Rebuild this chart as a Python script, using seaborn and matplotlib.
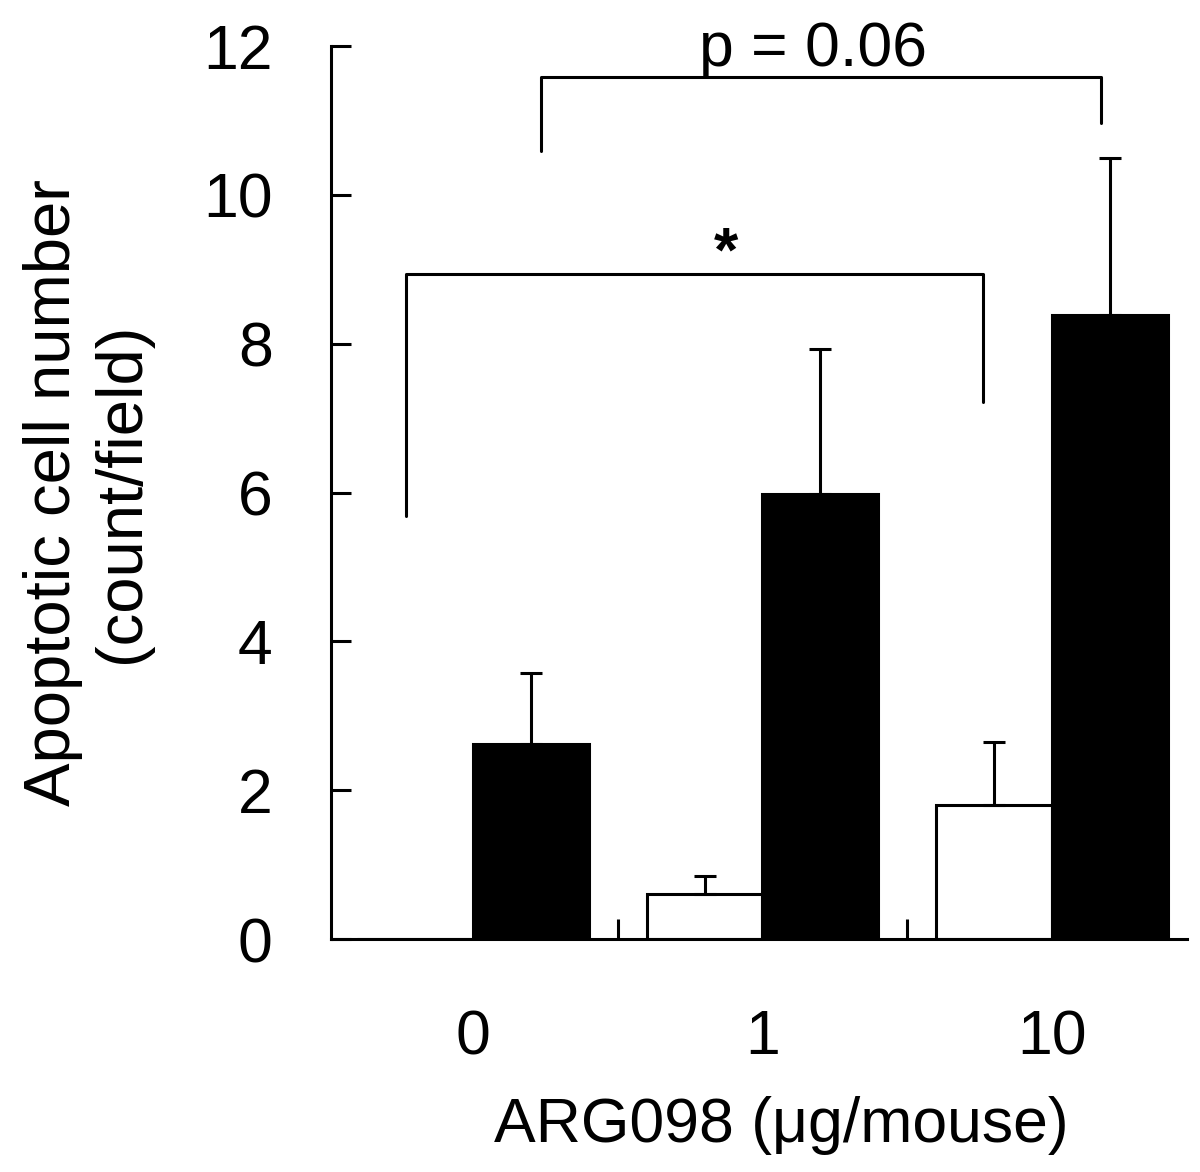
import pandas as pd
import matplotlib
matplotlib.use('Agg')
from matplotlib import pyplot as plt
import seaborn as sns

# chart values
doses = ['0', '1', '10']
groups = ['open', 'filled']
open_mean = [0.0, 0.60, 1.80]
open_err = [0.0, 0.25, 0.85]
filled_mean = [2.62, 5.98, 8.38]
filled_err = [0.96, 1.95, 2.12]

df = pd.DataFrame({
    'dose': doses * 2,
    'group': [groups[0]] * 3 + [groups[1]] * 3,
    'count': open_mean + filled_mean,
    'err': open_err + filled_err,
})

sns.set_style('ticks')
plt.rcParams['font.family'] = ['Liberation Sans', 'DejaVu Sans']
for k in ['text.color', 'axes.labelcolor', 'xtick.color', 'ytick.color',
          'axes.edgecolor']:
    plt.rcParams[k] = 'black'
LW = 2.2
FS = 45

fig = plt.figure(figsize=(12, 11.72), dpi=100)
ax = fig.add_axes([0.2758, 0.1988, 0.7133, 0.7619])

sns.barplot(data=df, x='dose', y='count', hue='group', order=doses,
            hue_order=groups, palette=['white', 'black'], edgecolor='black',
            linewidth=LW, errorbar=None, legend=False, ax=ax)

# one-sided error bars on top of each bar
for cont, g in zip(ax.containers, groups):
    sub = df[df['group'] == g].set_index('dose').loc[doses]
    for bar, e in zip(cont, sub['err']):
        if e <= 0:
            continue
        x = bar.get_x() + bar.get_width() / 2
        h = bar.get_height()
        ax.errorbar([x], [h], yerr=[[0], [e]], fmt='none', ecolor='black',
                    elinewidth=LW, capsize=8, capthick=LW, zorder=3)

# significance brackets
ax.plot([-0.231, -0.231, 1.762, 1.762], [5.69, 8.94, 8.94, 7.22],
        color='black', lw=LW, clip_on=False)
ax.text(0.874, 8.98, '*', ha='center', va='baseline', fontsize=FS,
        fontweight='bold')
ax.plot([0.235, 0.235, 2.17, 2.17], [10.59, 11.59, 11.59, 10.97],
        color='black', lw=LW, clip_on=False)
ax.text(1.175, 11.73, 'p = 0.06', ha='center', va='baseline', fontsize=FS,
        clip_on=False)

ax.set_xlim(-0.49, 2.466)
ax.set_ylim(0, 12)
ax.set_yticks([0, 2, 4, 6, 8, 10, 12])
ax.set_xticks([0.5, 1.5], minor=True)
sns.despine(ax=ax)
for s in ['left', 'bottom']:
    ax.spines[s].set_linewidth(LW)
ax.tick_params(axis='y', direction='in', length=14.4, width=LW, pad=42,
               labelsize=FS)
ax.tick_params(axis='x', which='major', length=0, pad=50, labelsize=FS)
ax.tick_params(axis='x', which='minor', direction='in', length=14.4,
               width=LW)

ax.set_xlabel('ARG098 (\u03bcg/mouse)', fontsize=FS)
ax.xaxis.set_label_coords(0.526, -0.176)
ax.xaxis.label.set_va('top')
ax.set_ylabel('Apoptotic cell number\n(count/field)', fontsize=47,
              linespacing=1.2)
ax.yaxis.set_label_coords(-0.209, 0.5)

fig.savefig('out.png', dpi=100)
